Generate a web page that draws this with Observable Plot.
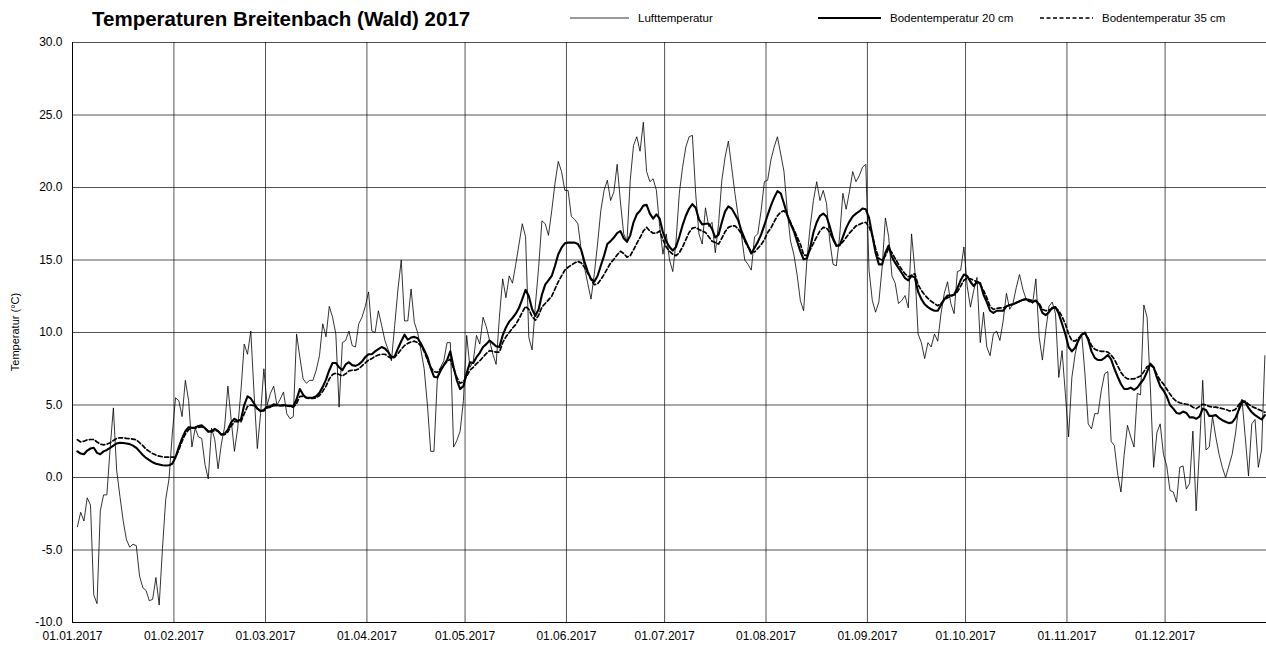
<!DOCTYPE html>
<html>
<head>
<meta charset="utf-8">
<script src="https://cdn.jsdelivr.net/npm/d3@7"></script>
<script src="https://cdn.jsdelivr.net/npm/@observablehq/plot@0.6"></script>
<style>
  body { margin: 0; background: #fff; font-family: "Liberation Sans", Arial, sans-serif; }
  #wrap { position: relative; width: 1266px; height: 650px; overflow: hidden; }
  #title { position: absolute; left: 92px; top: 7px; font-size: 20.5px; font-weight: bold; color: #000; white-space: nowrap; }
  .leg { position: absolute; top: 12px; font-size: 11.5px; color: #000; display: flex; align-items: center; white-space: nowrap; }
  .leg svg { margin-right: 9px; }
  #ylabel { position: absolute; left: 15px; top: 332px; font-size: 11px; transform: translate(-50%, -50%) rotate(-90deg); white-space: nowrap; }
</style>
</head>
<body>
<div id="wrap">
  <div id="chart"></div>
  <div id="title"></div>
  <div id="ylabel"></div>
</div>
<script>
// ---- text ----
const chartTitle = "Temperaturen Breitenbach (Wald) 2017";
const yAxisLabel = "Temperatur (°C)";
const seriesNames = ["Lufttemperatur", "Bodentemperatur 20 cm", "Bodentemperatur 35 cm"];
const yTickValues = [-10, -5, 0, 5, 10, 15, 20, 25, 30];
const firstDay = "2017-01-02"; // daily values from 02.01.2017 to 31.12.2017

// ---- daily values (°C), one line per month ----
const airTemp = [
  -3.4, -2.4, -3.0, -1.4, -1.9, -8.1, -8.7, -2.3, -1.2, -1.2, 2.0, 4.8, 0.5, -1.3, -3.0, -4.3, -4.8, -4.6, -4.7, -6.8, -7.6, -7.8, -8.5, -8.4, -6.9, -8.8, -4.9, -1.5, -0.1, 3.0,
  5.5, 5.3, 4.2, 6.7, 5.3, 2.1, 3.4, 2.8, 2.7, 0.9, -0.1, 3.4, 2.6, 0.6, 2.3, 3.5, 6.3, 4.0, 1.8, 3.4, 6.0, 9.2, 8.5, 10.1, 5.8, 2.0, 4.4, 7.5,
  5.0, 5.8, 6.3, 5.0, 5.4, 5.9, 4.4, 4.05, 4.2, 9.9, 8.3, 6.8, 6.5, 6.7, 6.7, 7.4, 8.4, 10.6, 9.7, 11.8, 11.05, 9.9, 4.85, 9.3, 9.45, 10.1, 9.1, 9.0, 10.6, 11.05, 11.8,
  12.8, 10.1, 10.0, 11.5, 10.5, 9.45, 8.8, 8.05, 10.5, 13.0, 15.0, 10.8, 10.8, 13.0, 10.7, 10.0, 8.8, 7.5, 5.0, 1.8, 1.8, 6.7, 7.6, 8.05, 9.3, 9.3, 2.1, 2.55, 3.2, 5.3,
  9.8, 7.6, 8.0, 9.8, 9.2, 11.05, 10.4, 9.45, 8.5, 7.8, 11.05, 13.7, 12.4, 13.9, 13.4, 14.7, 16.1, 17.5, 16.6, 9.65, 8.8, 11.9, 14.5, 17.7, 17.5, 16.7, 18.4, 20.3, 21.8, 21.1, 19.8,
  19.8, 18.0, 17.8, 17.5, 15.7, 14.5, 13.4, 12.3, 14.0, 16.1, 18.4, 19.8, 20.5, 19.1, 19.7, 21.6, 19.0, 16.8, 16.3, 20.5, 22.9, 23.5, 22.5, 24.5, 21.1, 20.4, 20.6, 19.8, 17.3, 15.4,
  16.8, 15.0, 14.2, 16.3, 19.6, 21.4, 22.8, 23.5, 23.6, 19.6, 16.8, 16.1, 18.6, 17.3, 17.6, 15.5, 17.5, 20.5, 22.1, 23.2, 21.4, 19.6, 18.0, 16.7, 15.0, 14.7, 14.3, 16.6, 16.8, 18.4, 20.4,
  20.5, 21.9, 22.8, 23.5, 22.3, 21.1, 18.4, 16.3, 15.4, 14.0, 12.2, 11.5, 15.0, 17.3, 19.1, 20.4, 19.1, 19.8, 18.9, 16.3, 14.7, 14.6, 16.6, 19.6, 18.5, 19.7, 21.1, 20.4, 20.8, 21.4, 21.6,
  14.3, 12.2, 11.4, 12.1, 14.5, 17.9, 16.6, 13.9, 13.4, 12.0, 12.2, 12.55, 11.7, 16.8, 14.3, 9.9, 9.3, 8.2, 9.3, 9.0, 9.9, 9.4, 11.3, 12.7, 13.5, 12.0, 11.3, 14.2, 14.3, 15.9,
  13.2, 11.75, 12.9, 13.8, 9.3, 11.4, 9.0, 8.4, 9.9, 10.1, 9.45, 10.8, 12.7, 11.6, 12.0, 13.1, 14.0, 13.0, 12.3, 12.3, 12.0, 13.7, 9.7, 8.1, 10.1, 11.8, 12.1, 11.3, 6.9, 8.75, 5.8,
  2.8, 6.9, 8.5, 9.55, 9.9, 7.15, 3.7, 3.35, 4.4, 4.4, 6.0, 7.15, 7.3, 2.5, 2.2, 0.25, -1.0, 1.6, 3.6, 2.8, 2.1, 5.8, 5.7, 11.9, 11.05, 6.2, 0.7, 3.1, 3.7, 1.6,
  0.8, -0.9, -1.0, -1.7, 0.7, 0.8, -0.8, -0.4, 3.2, -2.3, 1.9, 6.7, 1.9, 2.1, 4.2, 2.8, 1.6, 0.7, 0.0, 0.8, 1.6, 3.0, 4.85, 5.4, 2.8, 0.1, 3.7, 4.0, 0.7, 1.9, 8.4
];
const soil20 = [
  1.8, 1.65, 1.6, 1.86, 2.0, 2.05, 1.7, 1.6, 1.8, 1.9, 2.05, 2.2, 2.35, 2.4, 2.38, 2.35, 2.3, 2.2, 2.05, 1.8, 1.55, 1.35, 1.2, 1.05, 0.95, 0.9, 0.85, 0.83, 0.85, 0.95,
  1.4, 2.1, 2.7, 3.2, 3.47, 3.43, 3.45, 3.55, 3.6, 3.4, 3.15, 3.2, 3.35, 3.2, 2.95, 3.0, 3.3, 3.8, 4.05, 3.9, 4.0, 5.0, 5.6, 5.45, 5.1, 4.75, 4.58, 4.65,
  4.9, 4.9, 5.05, 5.0, 4.97, 5.0, 4.97, 4.95, 4.9, 5.4, 6.1, 5.7, 5.5, 5.5, 5.5, 5.6, 5.85, 6.25, 6.75, 7.4, 7.9, 7.9, 7.6, 7.4, 7.8, 7.95, 7.75, 7.7, 7.8, 8.0, 8.3,
  8.5, 8.5, 8.7, 8.85, 9.0, 8.9, 8.65, 8.3, 8.35, 8.9, 9.4, 9.85, 9.5, 9.65, 9.7, 9.6, 9.25, 8.8, 8.3, 7.55, 6.95, 6.9, 7.35, 7.75, 8.1, 8.7, 7.6, 6.7, 6.1, 6.3,
  7.2, 7.95, 7.9, 8.3, 8.6, 9.0, 9.2, 9.45, 9.25, 9.05, 9.0, 9.8, 10.35, 10.75, 11.0, 11.3, 11.7, 12.3, 12.95, 12.5, 11.6, 11.15, 11.6, 12.6, 13.3, 13.6, 13.9, 14.6, 15.4, 15.85, 16.15,
  16.2, 16.2, 16.2, 16.1, 15.7, 14.9, 14.2, 13.7, 13.5, 13.9, 14.6, 15.3, 16.1, 16.3, 16.55, 16.85, 17.0, 16.5, 16.25, 16.7, 17.6, 18.15, 18.4, 18.75, 18.8, 18.2, 17.85, 18.15, 17.85, 16.9,
  16.3, 15.9, 15.65, 15.9, 16.6, 17.4, 18.05, 18.55, 18.85, 18.6, 17.8, 17.45, 17.5, 17.5, 17.15, 16.55, 16.75, 17.6, 18.35, 18.7, 18.55, 18.15, 17.75, 17.0, 16.45, 15.95, 15.45, 15.85, 16.25, 16.75, 17.4,
  18.1, 18.75, 19.3, 19.75, 19.6, 18.9, 18.1, 17.5, 17.0, 16.3, 15.6, 15.05, 15.1, 15.85, 16.9, 17.6, 18.05, 18.2, 18.0, 17.3, 16.5, 16.0, 16.0, 16.6, 17.2, 17.65, 18.0, 18.2, 18.35, 18.55, 18.5,
  17.9, 16.7, 15.5, 14.7, 14.7, 15.5, 16.0, 15.2, 14.8, 14.45, 14.1, 13.75, 13.6, 13.9, 13.8, 12.8, 12.3, 11.95, 11.75, 11.6, 11.5, 11.5, 11.9, 12.3, 12.55, 12.55, 12.6, 13.05, 13.6, 14.0,
  13.9, 13.5, 13.2, 13.5, 13.4, 12.6, 12.1, 11.5, 11.35, 11.5, 11.5, 11.5, 11.8, 11.9, 11.95, 12.05, 12.15, 12.25, 12.3, 12.15, 12.1, 12.2, 11.9, 11.35, 11.2, 11.4, 11.7, 11.75, 11.3, 10.6, 9.9,
  9.0, 8.7, 8.95, 9.45, 9.85, 10.0, 9.5, 8.7, 8.25, 8.1, 8.1, 8.25, 8.45, 8.15, 7.5, 6.95, 6.45, 6.1, 6.1, 6.2, 6.05, 6.2, 6.5, 6.8, 7.3, 7.85, 7.6, 6.9, 6.3, 6.0,
  5.6, 5.0, 4.75, 4.45, 4.4, 4.55, 4.45, 4.15, 4.15, 4.05, 4.2, 4.75, 4.65, 4.25, 4.25, 4.3, 4.1, 3.95, 3.85, 3.75, 3.8, 4.1, 4.65, 5.2, 5.2, 4.8, 4.5, 4.3, 4.15, 4.0, 4.3
];
const soil35 = [
  2.6, 2.45, 2.5, 2.6, 2.62, 2.62, 2.45, 2.3, 2.25, 2.3, 2.4, 2.55, 2.7, 2.74, 2.73, 2.7, 2.68, 2.65, 2.6, 2.4, 2.2, 1.95, 1.8, 1.65, 1.55, 1.47, 1.43, 1.4, 1.4, 1.4,
  1.4, 1.9, 2.5, 3.0, 3.3, 3.4, 3.4, 3.45, 3.5, 3.4, 3.2, 3.15, 3.25, 3.2, 3.0, 2.95, 3.15, 3.55, 3.85, 3.85, 3.85, 4.4, 4.9, 5.0, 4.95, 4.75, 4.6, 4.6,
  4.8, 4.85, 4.95, 4.95, 4.95, 4.95, 4.95, 4.9, 4.85, 5.1, 5.6, 5.6, 5.5, 5.45, 5.45, 5.5, 5.65, 5.95, 6.3, 6.8, 7.1, 7.2, 7.1, 7.0, 7.15, 7.35, 7.4, 7.4, 7.5, 7.7, 7.9,
  8.1, 8.2, 8.35, 8.45, 8.5, 8.5, 8.35, 8.2, 8.3, 8.55, 8.85, 9.1, 9.25, 9.35, 9.4, 9.3, 9.1, 8.7, 8.1, 7.6, 7.3, 7.25, 7.5, 7.75, 8.0, 8.15, 7.5, 6.9, 6.5, 6.6,
  7.0, 7.4, 7.6, 7.85, 8.05, 8.3, 8.55, 8.75, 8.7, 8.65, 8.65, 9.3, 9.7, 10.0, 10.3, 10.55, 10.95, 11.4, 11.8, 11.6, 11.1, 10.85, 11.2, 11.75, 12.0, 12.25, 12.5, 13.0, 13.5, 13.9, 14.3,
  14.5, 14.65, 14.8, 14.9, 14.8, 14.5, 14.1, 13.65, 13.3, 13.35, 13.65, 14.0, 14.4, 14.8, 15.05, 15.35, 15.6, 15.45, 15.2, 15.3, 15.7, 16.15, 16.55, 17.0, 17.25, 17.0, 16.85, 16.85, 17.0, 16.4,
  15.9, 15.6, 15.4, 15.3, 15.5, 15.9, 16.4, 16.9, 17.2, 17.25, 17.1, 17.0, 16.9, 16.6, 16.3, 16.2, 16.1, 16.5, 16.95, 17.25, 17.35, 17.35, 17.15, 16.8, 16.3, 15.9, 15.6, 15.55, 15.8, 16.05, 16.4,
  16.9, 17.2, 17.65, 18.05, 18.3, 18.4, 18.1, 17.6, 17.1, 16.6, 16.1, 15.35, 15.3, 15.7, 16.15, 16.6, 17.0, 17.25, 17.2, 16.9, 16.4, 15.95, 16.05, 16.25, 16.55, 16.85, 17.1, 17.35, 17.45, 17.55, 17.6,
  17.3, 16.7, 15.8, 15.1, 15.0, 15.3, 15.8, 15.5, 15.1, 14.7, 14.35, 14.05, 13.85, 13.95, 14.05, 13.3, 12.9, 12.6, 12.35, 12.15, 12.0, 11.85, 12.0, 12.25, 12.4, 12.5, 12.6, 12.8, 13.2, 13.6,
  13.75, 13.7, 13.6, 13.5, 13.3, 12.9, 12.4, 11.8, 11.6, 11.65, 11.7, 11.7, 11.8, 11.9, 11.95, 12.05, 12.15, 12.25, 12.3, 12.25, 12.2, 12.2, 12.0, 11.6, 11.5, 11.55, 11.65, 11.7, 11.5, 11.1, 10.6,
  9.9, 9.45, 9.4, 9.6, 9.85, 9.95, 9.6, 9.1, 8.85, 8.75, 8.7, 8.7, 8.65, 8.45, 8.15, 7.7, 7.25, 6.95, 6.8, 6.8, 6.8, 6.9, 7.0, 7.3, 7.65, 7.7, 7.6, 7.1, 6.7, 6.45,
  6.1, 5.75, 5.45, 5.25, 5.15, 5.1, 5.05, 5.0, 4.85, 4.75, 4.9, 5.05, 5.0, 4.9, 4.85, 4.85, 4.8, 4.75, 4.7, 4.6, 4.6, 4.7, 5.0, 5.3, 5.25, 5.05, 4.9, 4.8, 4.7, 4.6, 4.5
];

// ---- build table ----
const t0 = new Date(firstDay + "T12:00:00Z");
const toRows = (vals, name) => vals.map((v, i) => ({ date: d3.utcDay.offset(t0, i), value: v, series: name }));
const airRows = toRows(airTemp, seriesNames[0]);
const s20Rows = toRows(soil20, seriesNames[1]);
const s35Rows = toRows(soil35, seriesNames[2]);

const xStart = new Date(Date.UTC(2017, 0, 1));
const xEnd = new Date(Date.UTC(2018, 0, 1));
const monthTicks = d3.utcMonth.range(xStart, xEnd);

const styles = [
  { stroke: "#000", strokeWidth: 0.8 },
  { stroke: "#000", strokeWidth: 2.1 },
  { stroke: "#000", strokeWidth: 1.7, strokeDasharray: "4,2.5" }
];

const chart = Plot.plot({
  width: 1266,
  height: 650,
  marginLeft: 72,
  marginRight: 0,
  marginTop: 42,
  marginBottom: 28,
  style: { fontFamily: "'Liberation Sans', Arial, sans-serif", fontSize: "12px", background: "#fff", color: "#000" },
  x: { type: "utc", domain: [xStart, xEnd] },
  y: { domain: [-10, 30] },
  marks: [
    Plot.gridY(yTickValues, { stroke: "#000", strokeOpacity: 0.85, strokeWidth: 0.8 }),
    Plot.gridX(monthTicks, { stroke: "#000", strokeOpacity: 0.85, strokeWidth: 0.8 }),
    Plot.ruleX([xStart], { stroke: "#000", strokeWidth: 1 }),
    Plot.ruleY([-10], { stroke: "#000", strokeWidth: 1 }),
    Plot.lineY(airRows, { x: "date", y: "value", ...styles[0] }),
    Plot.lineY(s35Rows, { x: "date", y: "value", ...styles[2] }),
    Plot.lineY(s20Rows, { x: "date", y: "value", ...styles[1] }),
    Plot.axisY(yTickValues, { tickFormat: d => d.toFixed(1), tickSize: 0, tickPadding: 10, fontSize: 12, label: null }),
    Plot.axisX(monthTicks, { tickFormat: d3.utcFormat("%d.%m.%Y"), tickSize: 0, tickPadding: 9, fontSize: 12, label: null })
  ]
});
document.getElementById("chart").appendChild(chart);

document.getElementById("title").textContent = chartTitle;
document.getElementById("ylabel").textContent = yAxisLabel;

// ---- legend ----
const legendPos = [{ line: 570, text: 638 }, { line: 818, text: 890 }, { line: 1040, text: 1102 }];
const wrap = document.getElementById("wrap");
seriesNames.forEach((name, i) => {
  const div = document.createElement("div");
  div.className = "leg";
  div.style.left = legendPos[i].line + "px";
  const w = legendPos[i].text - legendPos[i].line - 9;
  const st = styles[i];
  div.innerHTML = `<svg width="${w}" height="8"><line x1="0" x2="${w}" y1="4" y2="4" stroke="${st.stroke}" stroke-width="${st.strokeWidth}" ${st.strokeDasharray ? `stroke-dasharray="${st.strokeDasharray}"` : ""}/></svg><span></span>`;
  div.querySelector("span").textContent = name;
  wrap.appendChild(div);
});
</script>
</body>
</html>
